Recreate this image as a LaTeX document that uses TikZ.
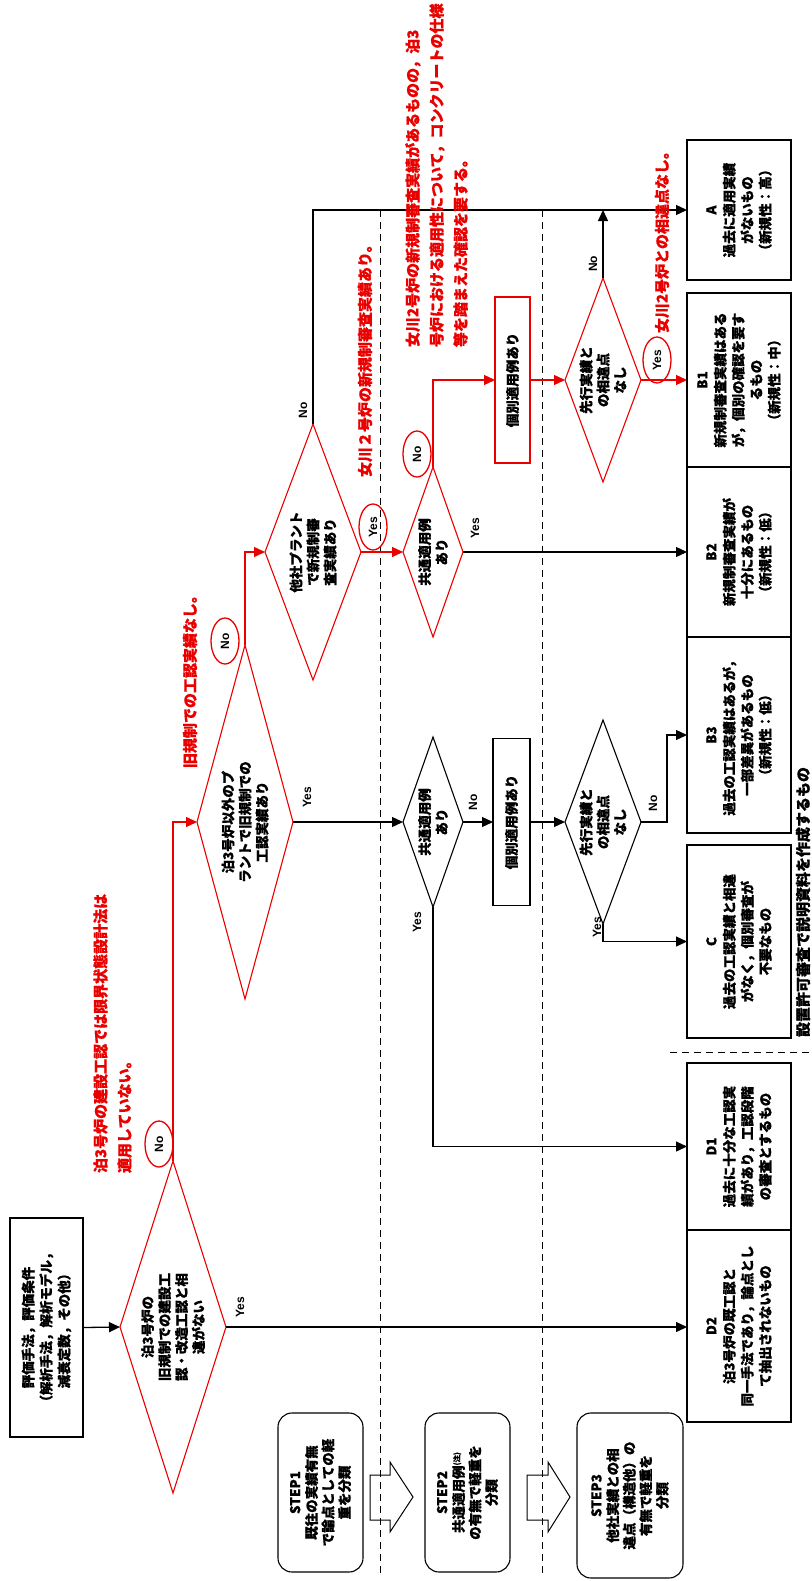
\documentclass[tikz,border=0pt]{standalone}
\usepackage{fontspec}
\setmainfont{Noto Sans CJK JP}[FakeBold=0.7]
\newfontfamily\latf{Liberation Sans}
\usetikzlibrary{shapes.geometric,arrows.meta}
\definecolor{rd}{RGB}{235,0,0}
\begin{document}
\begin{tikzpicture}[x=1pt,y=-1pt,
  every node/.style={inner sep=0pt, outer sep=0pt},
  jtext/.style={rotate=90, align=center, font=\fontsize{13.5}{18}\selectfont\bfseries},
  dtext/.style={rotate=90, align=center, font=\fontsize{13.5}{17}\selectfont\bfseries},
  stext/.style={rotate=90, align=center, font=\fontsize{13.5}{16.5}\selectfont\bfseries},
  box/.style={draw, rectangle, line width=1.1pt},
  rbox/.style={box, draw=rd},
  dia/.style={draw, diamond, line width=1.1pt},
  rdia/.style={dia, draw=rd},
  conn/.style={line width=1.3pt, -{Triangle[length=11pt,width=10pt]}},
  rconn/.style={conn, draw=rd},
  note/.style={rotate=90, align=left, text=rd, anchor=west, font=\fontsize{15}{24}\selectfont\bfseries},
  yn/.style={rotate=90, font=\latf\bfseries\fontsize{12}{12}\selectfont},
  oval/.style={ellipse, draw=rd, line width=1.3pt, minimum width=46pt, minimum height=28pt, rotate=90, font=\latf\bfseries\fontsize{12}{12}\selectfont},
  stepbox/.style={draw, rectangle, rounded corners=14pt, line width=1.1pt},
  divider/.style={dash pattern=on 7pt off 5pt, line width=1pt}
]
\fill[white] (0,0) rectangle (811,1581);
\useasboundingbox (0,0) rectangle (811,1581);

% step dividers
\coordinate (v1t) at (380,210); \coordinate (v1b) at (380,1575);
\coordinate (v2t) at (542,210); \coordinate (v2b) at (542,1575);
\coordinate (h1l) at (670,1052); \coordinate (h1r) at (811,1052);
\draw[divider] (v1t) -- (v1b);
\draw[divider] (v2t) -- (v2b);
\draw[divider] (h1l) -- (h1r);

% input box
\node[box, minimum width=73pt, minimum height=219pt] (inbox) at (46.5,1327.5) {};
\node[jtext] at (inbox) {評価手法，評価条件\\（解析手法，解析モデル，\\減衰定数，その他）};

% diamonds
\node[rdia, minimum width=106pt, minimum height=332pt] (d1) at (173,1327) {};
\node[dtext] at (d1) {泊3号炉の\\旧規制での建設工\\認・改造工認と相\\違がない};
\node[rdia, minimum width=96pt, minimum height=354pt] (d2) at (245,822) {};
\node[dtext] at (d2) {泊3号炉以外のプ\\ラントで旧規制での\\工認実績あり};
\node[rdia, minimum width=96pt, minimum height=256pt] (d3) at (313,552) {};
\node[dtext] at (d3) {他社プラント\\で新規制審\\査実績あり};
\node[rdia, minimum width=60pt, minimum height=170pt] (d4) at (433,552) {};
\node[dtext] at (d4) {共通適用例\\あり};
\node[rdia, minimum width=76pt, minimum height=204pt] (d5) at (603,380) {};
\node[dtext] at (d5) {先行実績と\\の相違点\\なし};
\node[dia, minimum width=60pt, minimum height=170pt] (d6) at (433,822) {};
\node[dtext] at (d6) {共通適用例\\あり};
\node[dia, minimum width=76pt, minimum height=204pt] (d7) at (603,822) {};
\node[dtext] at (d7) {先行実績と\\の相違点\\なし};

% process boxes
\node[rbox, minimum width=35pt, minimum height=166pt] (p1) at (512.5,380) {};
\node[jtext] at (p1) {個別適用例あり};
\node[box, minimum width=37pt, minimum height=167pt] (p2) at (511.5,822) {};
\node[jtext] at (p2) {個別適用例あり};

% result boxes
\node[box, minimum width=104pt, minimum height=140pt] (A) at (739,210) {};
\node[jtext] at (A) {A\\過去に適用実績\\がないもの\\（新規性：高）};
\node[box, minimum width=104pt, minimum height=174pt] (B1) at (739,380) {};
\node[jtext] at (B1) {B1\\新規制審査実績はある\\が，個別の確認を要す\\るもの\\（新規性：中）};
\node[box, minimum width=104pt, minimum height=170pt] (B2) at (739,552) {};
\node[jtext] at (B2) {B2\\新規制審査実績が\\十分にあるもの\\（新規性：低）};
\node[box, minimum width=104pt, minimum height=196pt] (B3) at (739,735) {};
\node[jtext] at (B3) {B3\\過去の工認実績はあるが，\\一部差異があるもの\\（新規性：低）};
\node[box, minimum width=104pt, minimum height=193pt] (C) at (739,941.5) {};
\node[jtext] at (C) {C\\過去の工認実績と相違\\がなく，個別審査が\\不要なもの};
\node[box, minimum width=104pt, minimum height=167pt] (D1) at (739,1146.5) {};
\node[jtext] at (D1) {D1\\過去に十分な工認実\\績があり，工認段階\\の審査とするもの};
\node[box, minimum width=104pt, minimum height=192pt] (D2) at (739,1326) {};
\node[jtext] at (D2) {D2\\泊3号炉の既工認と\\同一手法であり，論点とし\\て抽出されないもの};

% step boxes
\node[stepbox, minimum width=85pt, minimum height=159pt] (s1) at (320.5,1492.5) {};
\node[stext] at (s1) {STEP1\\既往の実績有無\\で論点としての軽\\重を分類};
\node[stepbox, minimum width=85pt, minimum height=159pt] (s2) at (467.5,1492.5) {};
\node[stext] at (s2) {STEP2\\共通適用例\raisebox{4pt}{\fontsize{7.5}{8}\selectfont (注)}\\の有無で軽重を\\分類};
\node[stepbox, minimum width=106pt, minimum height=165pt] (s3) at (630,1495.5) {};
\node[stext] at (s3) {STEP3\\他社実績との相\\違点（構造他）の\\有無で軽重を\\分類};

% block arrows between steps
\draw[line width=1pt] (370,1475) -- (390,1475) -- (390,1462) -- (413,1497) -- (390,1532) -- (390,1520) -- (370,1520) -- cycle;
\draw[line width=1pt] (527,1475) -- (548,1475) -- (548,1462) -- (570,1497) -- (548,1532) -- (548,1520) -- (527,1520) -- cycle;

% connectors
\draw[conn] (inbox.east) -- (d1.west);
\draw[conn] (d1.east) -- (d1.east -| D2.west);
\draw[rconn] (d1.north) -- (d1.north |- d2.west) -- (d2.west);
\draw[conn] (d2.east) -- (d6.west);
\draw[rconn] (d2.north) -- (d2.north |- d3.west) -- (d3.west);
\draw[conn] (d3.north) -- (d3.north |- A.west) -- (A.west);
\draw[rconn] (d3.east) -- (d4.west);
\draw[conn] (d4.east) -- (d4.east -| B2.west);
\draw[rconn] (d4.north) -- (d4.north |- p1.west) -- (p1.west);
\draw[rconn] (p1.east) -- (d5.west);
\draw[conn] (d5.north) -- (d5.north |- A.west);
\draw[rconn] (d5.east) -- (d5.east -| B1.west);
\draw[conn] (d6.east) -- (p2.west);
\draw[conn] (p2.east) -- (d7.west);
\draw[conn] (d7.east) -- ++(26,0) |- (B3.west);
\draw[conn] (d7.south) |- (C.west);
\draw[conn] (d6.south) |- (D1.west);

% Yes / No labels
\node[yn] at (240,1307) {Yes};
\node[yn] at (307,797) {Yes};
\node[yn] at (303,410) {No};
\node[yn] at (475,528) {Yes};
\node[yn] at (473,802) {No};
\node[yn] at (593,264) {No};
\node[yn] at (653,803) {No};
\node[yn] at (597,927) {Yes};
\node[yn] at (417,922) {Yes};

\node[oval] at (159,1144) {No};
\node[oval] at (225,641) {No};
\node[oval] at (373,527) {Yes};
\node[oval] at (417,454) {No};
\node[oval] at (657,360) {Yes};

% red notes
\node[note] at (112.5,1173) {泊3号炉の建設工認では限界状態設計法は\\適用していない。};
\node[note] at (190,768) {旧規制での工認実績なし。};
\node[note] at (436.5,347) {女川2号炉の新規制審査実績があるものの，泊3\\号炉における適用性について，コンクリートの仕様\\等を踏まえた確認を要する。};
\node[note] at (365,477) {女川２号炉の新規制審査実績あり。};
\node[note] at (662,333) {女川2号炉との相違点なし。};

% bottom note
\node[rotate=90, anchor=west, font=\fontsize{15}{15}\selectfont\bfseries] at (803,1037) {設置許可審査で説明資料を作成するもの};
\end{tikzpicture}
\end{document}
